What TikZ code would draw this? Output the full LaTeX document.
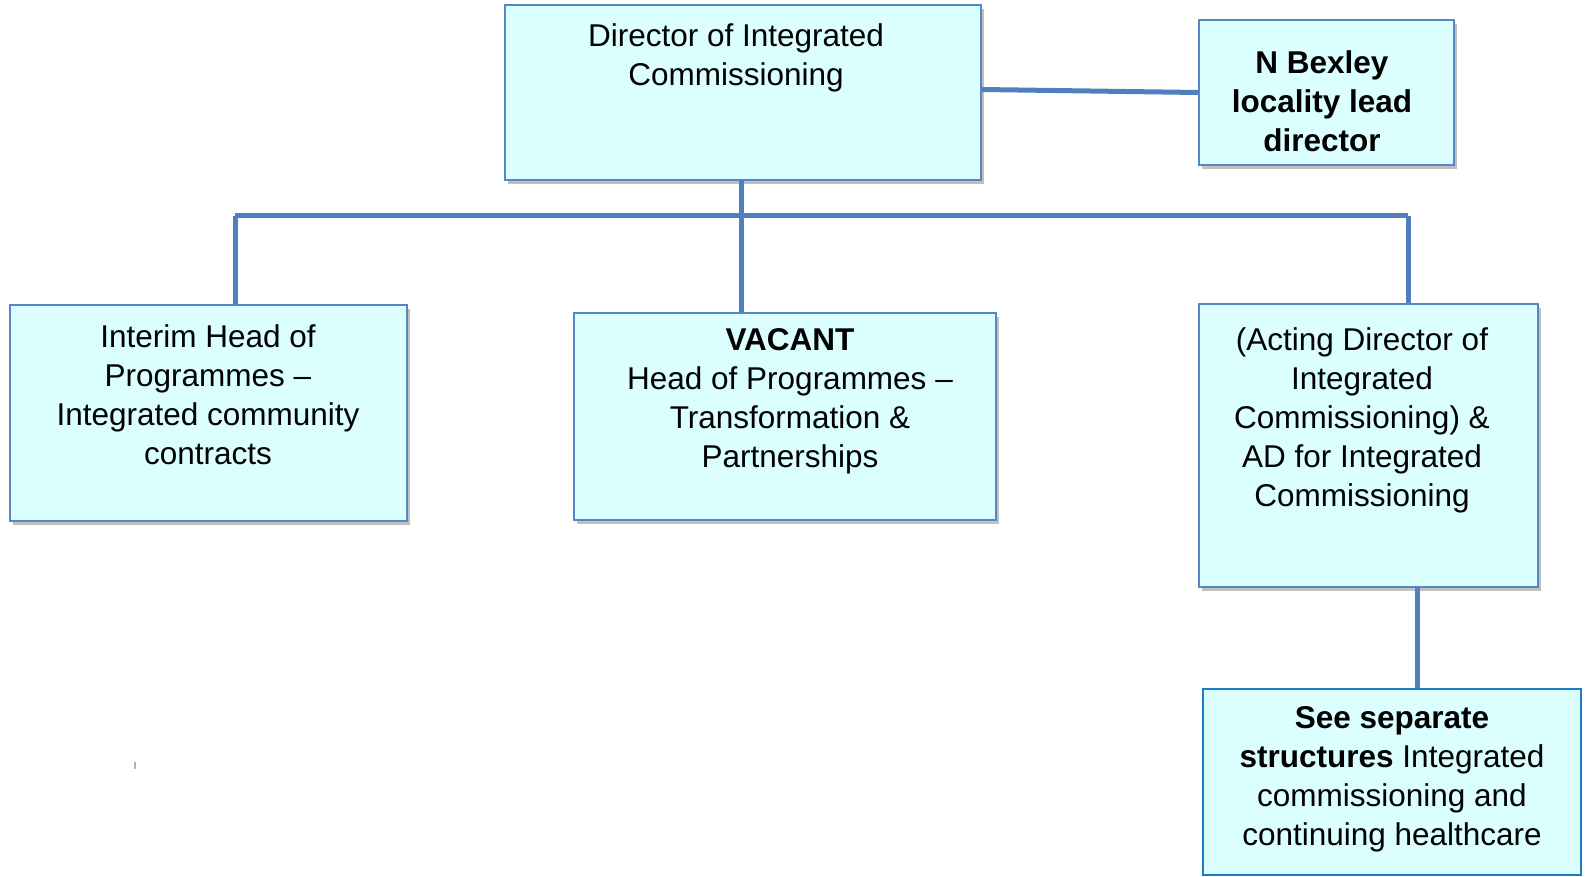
\documentclass[tikz,border=0pt]{standalone}
\usepackage{fontspec}
\setmainfont{Liberation Sans}
\usetikzlibrary{shadows}
\definecolor{boxfill}{HTML}{DBFEFE}
\definecolor{boxline}{HTML}{5587C4}
\definecolor{boxline2}{HTML}{1F7BC2}
\definecolor{connline}{HTML}{4F7FBC}
\tikzset{
  orgbox/.style={draw=boxline, line width=2pt, fill=boxfill, rectangle, inner sep=0pt,
    drop shadow={shadow xshift=2.5pt, shadow yshift=-4pt, opacity=0.45, fill=black!55}},
  orgbox2/.style={draw=boxline2, line width=2.2pt, fill=boxfill, rectangle, inner sep=0pt},
  orgtxt/.style={align=center, inner sep=0pt, font=\fontsize{31.5}{39}\selectfont},
  conn/.style={draw=connline, line width=5pt},
}
\begin{document}
\begin{tikzpicture}[x=1pt, y=-1pt]
\useasboundingbox (0,0) rectangle (1585,877);
% boxes
\node[orgbox, minimum width=476pt, minimum height=175pt] (dir) at (743,92.5) {};
\node[orgbox, minimum width=255pt, minimum height=145pt] (nb) at (1326.5,92.5) {};
\node[orgbox, minimum width=397pt, minimum height=216pt] (int) at (208.5,413) {};
\node[orgbox, minimum width=422pt, minimum height=207pt] (vac) at (785,416.5) {};
\node[orgbox, minimum width=339pt, minimum height=283pt] (act) at (1368.5,445.5) {};
\node[orgbox2, minimum width=378pt, minimum height=186pt] (see) at (1392,782) {};
% texts
\node[orgtxt] (dirt) at (736,58) {Director of Integrated\\Commissioning};
\node[orgtxt, font=\fontsize{31.5}{39}\selectfont\bfseries] (nbt) at (1322,101) {N Bexley\\locality lead\\director};
\node[orgtxt] (intt) at (208,395) {Interim Head of\\Programmes --\\Integrated community\\contracts};
\node[orgtxt] (vact) at (790,401) {\textbf{VACANT}\\Head of Programmes --\\Transformation \&\\Partnerships};
\node[orgtxt] (actt) at (1362,420) {(Acting Director of\\Integrated\\Commissioning) \&\\AD for Integrated\\Commissioning};
\node[orgtxt] (seet) at (1392,779) {\textbf{See separate}\\\textbf{structures} Integrated\\commissioning and\\continuing healthcare};
% connectors
\coordinate (hl) at (235,216);
\coordinate (hr) at (1408,216);
\coordinate (hm) at (741,216);
\coordinate (ac) at (1417,587);
\draw[conn] (dir.south -| hm) -- (hm);
\draw[conn] (hl) -- (hr);
\draw[conn] (hl) -- (hl |- int.north);
\draw[conn] (hm) -- (hm |- vac.north);
\draw[conn] (hr) -- (hr |- act.north);
\draw[conn] (ac) -- (ac |- see.north);
\draw[conn] (dir.east) ++(0,-3) -- (nb.west);
\draw[draw=boxline!60, line width=1.5pt] (135,762) -- (135,769);
\end{tikzpicture}
\end{document}
